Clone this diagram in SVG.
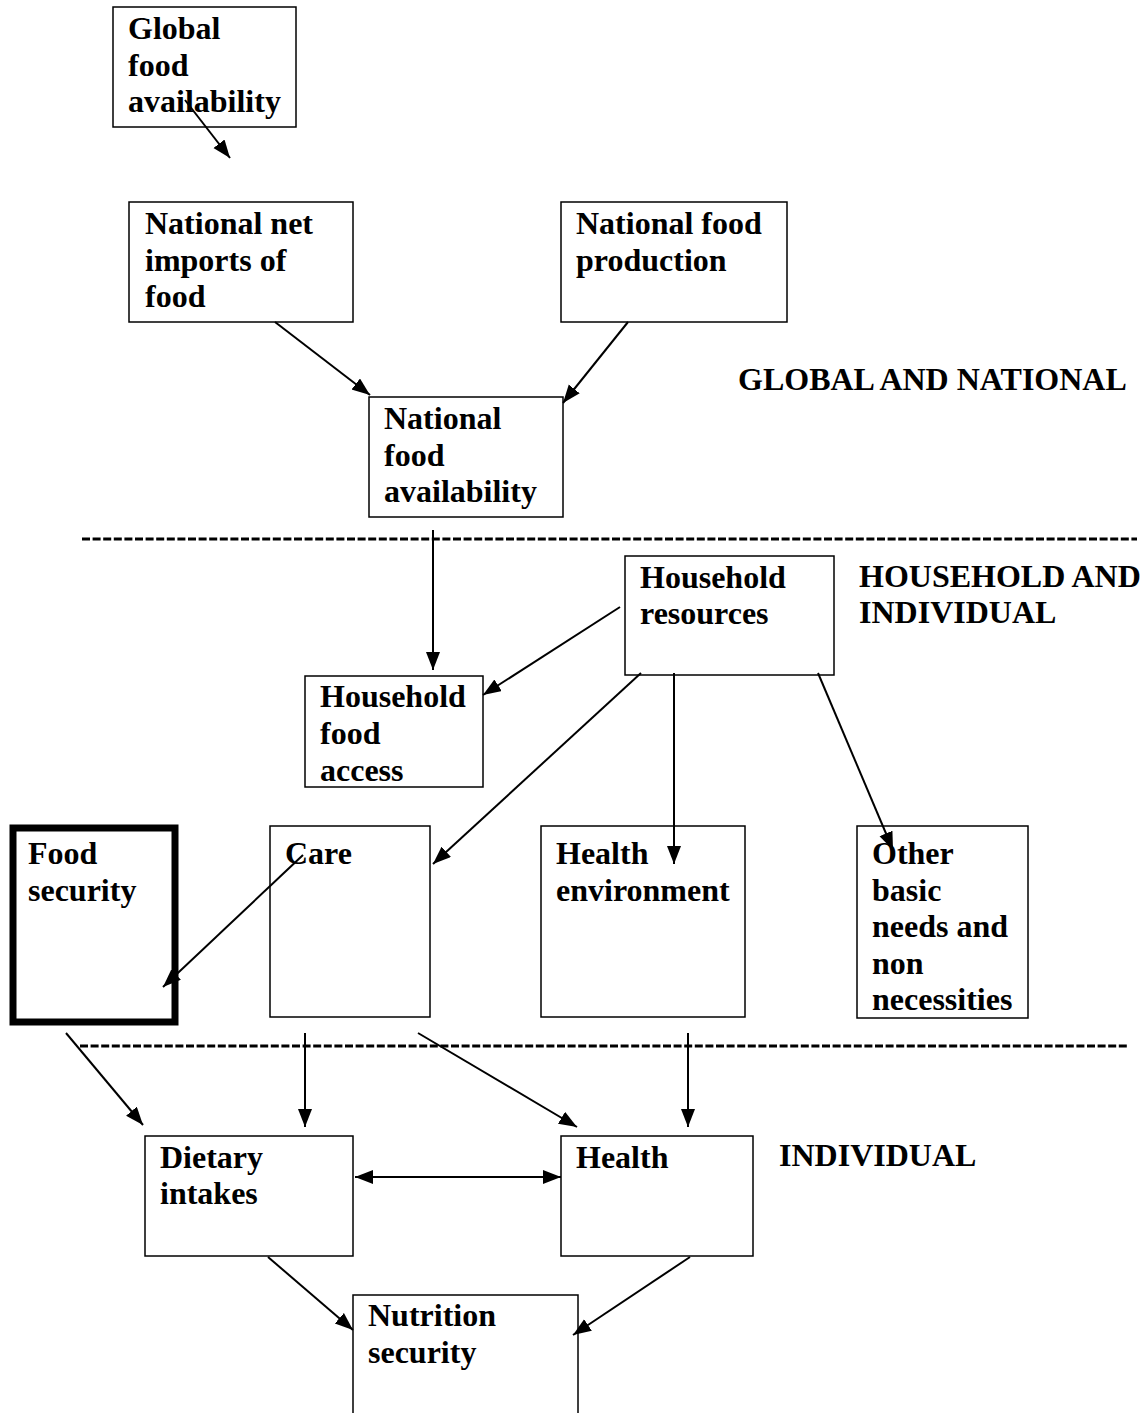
<svg xmlns="http://www.w3.org/2000/svg" width="1148" height="1413" viewBox="0 0 1148 1413">
<defs>
<style>
.box{fill:#fff;stroke:#000;stroke-width:1.5}
.thick{fill:#fff;stroke:#000;stroke-width:7}
text{font-family:"Liberation Serif","Times New Roman",serif;font-weight:bold;font-size:32px;fill:#000}
.c line{stroke:#000;stroke-width:2;marker-end:url(#ah)}
.dash{stroke:#000;stroke-width:3;stroke-dasharray:8 2.6}
</style>
<marker id="ah" markerUnits="userSpaceOnUse" markerWidth="20" markerHeight="16" refX="18" refY="7" orient="auto-start-reverse" viewBox="0 0 20 16">
<path d="M0,0 L18,7 L0,14 z" fill="#000"/>
</marker>
</defs>
<rect width="1148" height="1413" fill="#fff"/>

<g id="n-global"><rect class="box" x="113" y="7" width="183" height="120"/><text x="128" y="39">Global</text><text x="128" y="76">food</text><text x="128" y="112">availability</text></g>
<g id="n-imports"><rect class="box" x="129" y="202" width="224" height="120"/><text x="145" y="234">National net</text><text x="145" y="271">imports of</text><text x="145" y="307">food</text></g>
<g id="n-production"><rect class="box" x="561" y="202" width="226" height="120"/><text x="576" y="234">National food</text><text x="576" y="271">production</text></g>
<g id="n-natavail"><rect class="box" x="369" y="397" width="194" height="120"/><text x="384" y="429">National</text><text x="384" y="466">food</text><text x="384" y="502">availability</text></g>
<g id="n-hhres"><rect class="box" x="625" y="556" width="209" height="119"/><text x="640" y="588">Household</text><text x="640" y="624">resources</text></g>
<g id="n-hhaccess"><rect class="box" x="305" y="676" width="178" height="111"/><text x="320" y="707">Household</text><text x="320" y="744">food</text><text x="320" y="781">access</text></g>
<g id="n-foodsec"><rect class="thick" x="13" y="828" width="162" height="194"/><text x="28" y="864">Food</text><text x="28" y="901">security</text></g>
<g id="n-care"><rect class="box" x="270" y="826" width="160" height="191"/><text x="285" y="864">Care</text></g>
<g id="n-healthenv"><rect class="box" x="541" y="826" width="204" height="191"/><text x="556" y="864">Health</text><text x="556" y="901">environment</text></g>
<g id="n-other"><rect class="box" x="857" y="826" width="171" height="192"/><text x="872" y="864">Other</text><text x="872" y="901">basic</text><text x="872" y="937">needs and</text><text x="872" y="974">non</text><text x="872" y="1010">necessities</text></g>
<g id="n-dietary"><rect class="box" x="145" y="1136" width="208" height="120"/><text x="160" y="1168">Dietary</text><text x="160" y="1204">intakes</text></g>
<g id="n-health"><rect class="box" x="561" y="1136" width="192" height="120"/><text x="576" y="1168">Health</text></g>
<g id="n-nutrition"><rect class="box" x="353" y="1295" width="225" height="130"/><text x="368" y="1326">Nutrition</text><text x="368" y="1363">security</text></g>

<g id="labels">
<text x="738" y="390">GLOBAL AND NATIONAL</text>
<text x="859" y="587">HOUSEHOLD AND</text>
<text x="859" y="623">INDIVIDUAL</text>
<text x="779" y="1166">INDIVIDUAL</text>
</g>

<g id="dividers">
<line class="dash" x1="82" y1="539" x2="1137" y2="539"/>
<line class="dash" x1="80" y1="1046" x2="1127" y2="1046"/>
</g>

<g id="connectors" class="c">
<line x1="185" y1="100" x2="230" y2="158"/>
<line x1="275" y1="322" x2="370" y2="395"/>
<line x1="628" y1="322" x2="563" y2="403"/>
<line x1="433" y1="530" x2="433" y2="670"/>
<line x1="620" y1="607" x2="483" y2="695"/>
<line x1="641" y1="673" x2="433" y2="864"/>
<line x1="674" y1="673" x2="674" y2="864"/>
<line x1="818" y1="673" x2="893" y2="850"/>
<line x1="303" y1="855" x2="163" y2="987"/>
<line x1="66" y1="1033" x2="143" y2="1125"/>
<line x1="305" y1="1033" x2="305" y2="1127"/>
<line x1="418" y1="1033" x2="577" y2="1127"/>
<line x1="688" y1="1033" x2="688" y2="1127"/>
<line x1="355" y1="1177" x2="561" y2="1177" style="marker-start:url(#ah)"/>
<line x1="268" y1="1257" x2="353" y2="1330"/>
<line x1="690" y1="1257" x2="573" y2="1335"/>
</g>
</svg>
